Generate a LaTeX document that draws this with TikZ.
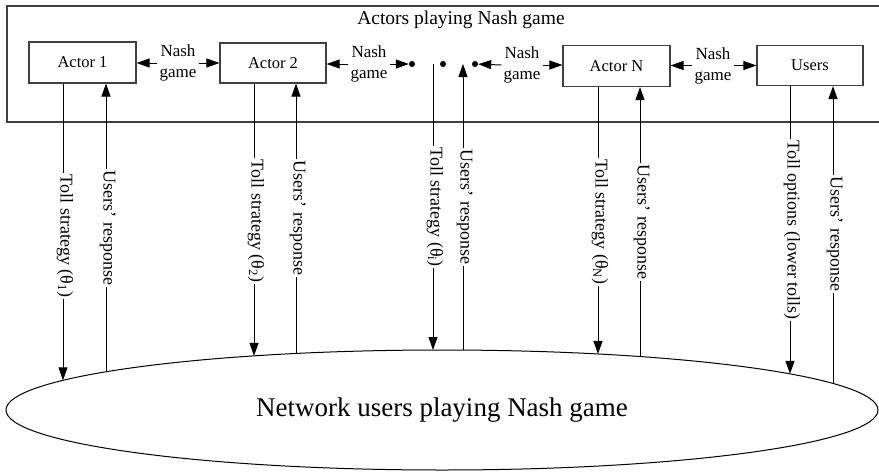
\documentclass[tikz,border=0pt]{standalone}
\usepackage{fontspec}
\setmainfont{Liberation Serif}
\usetikzlibrary{arrows.meta,shapes.geometric}
\begin{document}
\begin{tikzpicture}[x=1pt,y=-1pt,
  actorbox/.style={draw=black!75,line width=1.1pt,minimum width=107pt,minimum height=41pt,
    inner sep=0pt,font=\fontsize{16.5}{20}\selectfont},
  conn/.style={draw=black,line width=1pt},
  headed/.style={-{Triangle[length=13pt,width=9pt]}},
  nashlab/.style={align=center,inner sep=2pt,font=\fontsize{17}{21}\selectfont},
  vlab/.style={rotate=-90,anchor=mid,inner sep=1.5pt,font=\fontsize{18}{21}\selectfont},
  gamedot/.style={circle,fill=black,inner sep=0pt,minimum size=6pt},
]
% canvas
\useasboundingbox (0,0) rectangle (879,472);
\fill[white] (0,0) rectangle (879,472);

% frame around the actors
\draw[draw=black!75,line width=1.2pt] (882,6) -- (7,6) -- (7,122) -- (882,122);
\node[font=\fontsize{19.5}{23}\selectfont] (title) at (461,19.5) {Actors playing Nash game};

% actors
\node[actorbox] (a1) at (82.5,62.5) {Actor 1};
\node[actorbox,minimum width=106pt,minimum height=40pt] (a2) at (273,63) {Actor 2};
\node[actorbox] (aN) at (616.5,66) {Actor N};
\node[actorbox,minimum width=106pt,minimum height=40pt] (us) at (810,65.5) {Users};

% the dots standing for the remaining actors
\node[gamedot] (d1) at (412,64) {};
\node[gamedot] (d2) at (443,64) {};
\node[gamedot] (d3) at (475,64) {};

% Nash game links between neighbours
\node[nashlab] (n1) at (178,63) {Nash\\game};
\node[nashlab] (n2) at (369,64) {Nash\\game};
\node[nashlab] (n3) at (522,65) {Nash\\game};
\node[nashlab] (n4) at (713,65.5) {Nash\\game};
\draw[conn,headed] (n1.west) -- (n1.west -| a1.east);
\draw[conn,headed] (n1.east) -- (n1.east -| a2.west);
\draw[conn,headed] (n2.west) -- (n2.west -| a2.east);
\draw[conn,headed] (n2.east) -- (d1);
\draw[conn,headed] (n3.west) -- (d3);
\draw[conn,headed] (n3.east) -- (n3.east -| aN.west);
\draw[conn,headed] (n4.west) -- (n4.west -| aN.east);
\draw[conn,headed] (n4.east) -- (n4.east -| us.west);

% lower level: the network users
\node[draw,ellipse,line width=1pt,minimum width=872pt,minimum height=120pt,inner sep=0pt,
  font=\fontsize{27}{32}\selectfont] (net) at (442,410) {Network users playing Nash game};

% points on the upper rim of the ellipse
\foreach \n/\x in {t1/63,r1/106,t2/254,r2/296,ti/433,ri/463,tN/598,rN/640,tu/790,ru/833}
  \coordinate (e\n) at (\x,{410-60*sqrt(1-((\x-442)/436)^2)});

% ends of the links that start between the dots
\coordinate (mtop) at (433,64);
\coordinate (mtip) at (463,64);

% vertical labels
\node[vlab] (lt1) at (63,236) {Toll strategy (θ\textsubscript{1})};
\node[vlab] (lr1) at (106,228) {Users’ response};
\node[vlab] (lt2) at (254,221) {Toll strategy (θ\textsubscript{2})};
\node[vlab] (lr2) at (296,218) {Users’ response};
\node[vlab] (lti) at (433,207) {Toll strategy (θ\textsubscript{i})};
\node[vlab] (lri) at (463,207) {Users’ response};
\node[vlab] (ltN) at (598,222) {Toll strategy (θ\textsubscript{N})};
\node[vlab] (lrN) at (640,222) {Users’ response};
\node[vlab] (ltu) at (790,230) {Toll options (lower tolls)};
\node[vlab] (lru) at (833,234) {Users’ response};

% toll strategies going down
\draw[conn] (et1 |- a1.south) -- (lt1.mid west);
\draw[conn,headed] (lt1.mid east) -- (et1);
\draw[conn] (et2 |- a2.south) -- (lt2.mid west);
\draw[conn,headed] (lt2.mid east) -- (et2);
\draw[conn] (mtop) -- (lti.mid west);
\draw[conn,headed] (lti.mid east) -- (eti);
\draw[conn] (etN |- aN.south) -- (ltN.mid west);
\draw[conn,headed] (ltN.mid east) -- (etN);
\draw[conn] (etu |- us.south) -- (ltu.mid west);
\draw[conn,headed] (ltu.mid east) -- (etu);

% users' responses going up
\draw[conn] (er1) -- (lr1.mid east);
\draw[conn,headed] (lr1.mid west) -- (er1 |- a1.south);
\draw[conn] (er2) -- (lr2.mid east);
\draw[conn,headed] (lr2.mid west) -- (er2 |- a2.south);
\draw[conn] (eri) -- (lri.mid east);
\draw[conn,headed] (lri.mid west) -- (mtip);
\draw[conn] (erN) -- (lrN.mid east);
\draw[conn,headed] (lrN.mid west) -- (erN |- aN.south);
\draw[conn] (eru) -- (lru.mid east);
\draw[conn,headed] (lru.mid west) -- (eru |- us.south);
\end{tikzpicture}
\end{document}
